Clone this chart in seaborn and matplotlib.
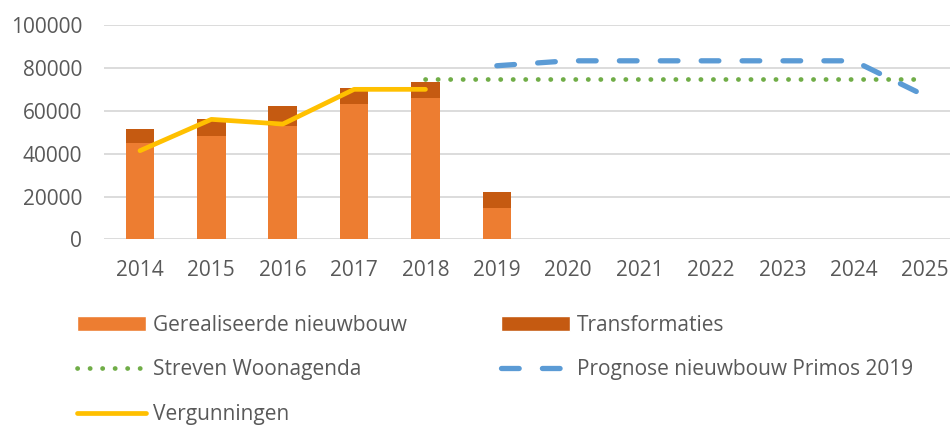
import numpy as np
import pandas as pd
import seaborn as sns
import matplotlib.pyplot as plt
from matplotlib.patches import Patch
from matplotlib.lines import Line2D

years = [str(y) for y in range(2014, 2026)]

bar_years = ["2014", "2015", "2016", "2017", "2018", "2019"]
gerealiseerd = [44800, 48300, 53000, 63200, 65800, 14600]
transformaties = [6600, 7900, 9200, 7300, 7600, 7400]

verg_years = [2014, 2015, 2016, 2017, 2018]
vergunningen = [41400, 56000, 53800, 70000, 70000]

streven_years = [2018, 2019, 2020, 2021, 2022, 2023, 2024, 2025]
streven = [75000] * 8

prognose_years = [2019, 2020, 2021, 2022, 2023, 2024, 2025]
prognose = [81000, 83300, 83300, 83300, 83300, 83300, 67000]

C_ORANGE = "#ED7D31"
C_DARK = "#C55A11"
C_YELLOW = "#FFC000"
C_GREEN = "#70AD47"
C_BLUE = "#5B9BD5"
C_TEXT = "#595959"
C_GRID = "#D9D9D9"

LW_DOT, LW_DASH, LW_SOLID = 3.4, 3.8, 3.4
DOTS = (0, (0.05, 2.6))
DASHES = (0, (3.35, 4.4))
FS = 15

sns.set_style("white")
plt.rcParams["font.family"] = ["Open Sans", "DejaVu Sans"]

bars = pd.DataFrame({
    "Jaar": bar_years,
    "Gerealiseerd": gerealiseerd,
    "Totaal": np.array(gerealiseerd) + np.array(transformaties),
})

fig = plt.figure(figsize=(9.5, 4.25), dpi=100)
ax = fig.add_axes([0.1098, 0.4365, 0.9015, 0.5047])

# stacked bars: total (dark) behind, realised (orange) in front
sns.barplot(data=bars, x="Jaar", y="Totaal", order=years, color=C_DARK,
            saturation=1, width=0.4, linewidth=0, ax=ax, zorder=2)
sns.barplot(data=bars, x="Jaar", y="Gerealiseerd", order=years, color=C_ORANGE,
            saturation=1, width=0.4, linewidth=0, ax=ax, zorder=2)

def pos(yrs):
    return [years.index(str(y)) for y in yrs]

sns.lineplot(x=pos(streven_years), y=streven, color=C_GREEN, linewidth=LW_DOT,
             linestyle=DOTS, dash_capstyle="round", ax=ax, zorder=3)
sns.lineplot(x=pos(prognose_years), y=prognose, color=C_BLUE, linewidth=LW_DASH,
             linestyle=DASHES, dash_capstyle="round", ax=ax, zorder=3)
sns.lineplot(x=pos(verg_years), y=vergunningen, color=C_YELLOW, linewidth=LW_SOLID,
             solid_capstyle="round", solid_joinstyle="round", ax=ax, zorder=4)

ax.set_xlim(-0.5, len(years) - 0.5)
ax.set_ylim(0, 100000)
ax.set_yticks(range(0, 100001, 20000))
ax.yaxis.grid(True, color=C_GRID, linewidth=1.3, zorder=0)
ax.set_axisbelow(True)
for s in ax.spines.values():
    s.set_visible(False)
ax.set_xlabel("")
ax.set_ylabel("")
ax.tick_params(axis="y", length=0, pad=16, labelsize=FS, labelcolor=C_TEXT)
ax.tick_params(axis="x", length=0, pad=15, labelsize=FS, labelcolor=C_TEXT)

handles = [
    Patch(facecolor=C_ORANGE, label="Gerealiseerde nieuwbouw"),
    Line2D([], [], color=C_GREEN, linewidth=LW_DOT, linestyle=DOTS,
           dash_capstyle="round", label="Streven Woonagenda"),
    Line2D([], [], color=C_YELLOW, linewidth=LW_SOLID, solid_capstyle="round",
           label="Vergunningen"),
    Patch(facecolor=C_DARK, label="Transformaties"),
    Line2D([], [], color=C_BLUE, linewidth=LW_DASH, linestyle=DASHES,
           dash_capstyle="round", label="Prognose nieuwbouw Primos 2019"),
]
fig.legend(handles=handles, ncol=2, loc="upper left",
           bbox_to_anchor=(0.081, 0.259), frameon=False, fontsize=FS,
           labelcolor=C_TEXT, handlelength=3.3, handletextpad=0.33,
           labelspacing=1.13, columnspacing=4.55, borderaxespad=0, borderpad=0)

fig.savefig("out.png", dpi=100)
